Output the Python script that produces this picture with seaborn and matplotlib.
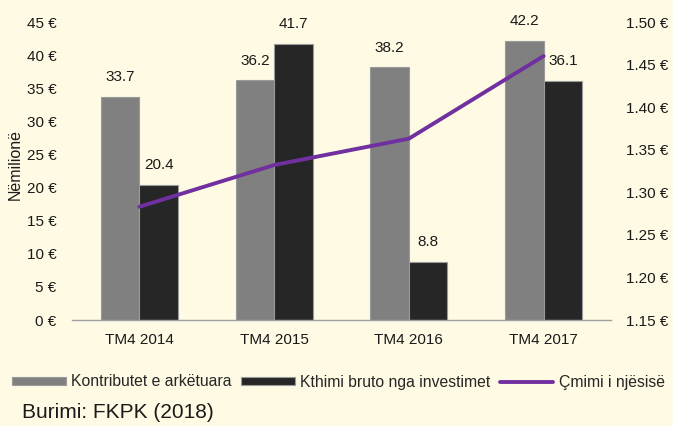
import numpy as np
import pandas as pd
import matplotlib
matplotlib.use("Agg")
import matplotlib.pyplot as plt
import seaborn as sns
from matplotlib.patches import Patch
from matplotlib.lines import Line2D

categories = ["TM4 2014", "TM4 2015", "TM4 2016", "TM4 2017"]
contributions = [33.7, 36.2, 38.2, 42.2]
returns = [20.4, 41.7, 8.8, 36.1]
unit_price = [1.283, 1.332, 1.363, 1.460]
series_names = ["Kontributet e arkëtuara", "Kthimi bruto nga investimet", "Çmimi i njësisë"]
left_ticks = [0, 5, 10, 15, 20, 25, 30, 35, 40, 45]
right_ticks = [1.15, 1.20, 1.25, 1.30, 1.35, 1.40, 1.45, 1.50]

bg = "#FEFAE3"
gray = "#808080"
dark = "#262626"
purple = "#7030A0"

sns.set_theme(style="white")
plt.rcParams["font.family"] = ["Liberation Sans", "DejaVu Sans"]
plt.rcParams["font.size"] = 11

df = pd.DataFrame({
    "cat": categories * 2,
    "val": contributions + returns,
    "series": [series_names[0]] * 4 + [series_names[1]] * 4,
})

fig = plt.figure(figsize=(6.73, 4.26), dpi=100, facecolor=bg)
ax = fig.add_axes([72 / 673, 1 - 320 / 426, (611 - 72) / 673, (320 - 22) / 426])
ax.set_facecolor(bg)

sns.barplot(data=df, x="cat", y="val", hue="series", palette=[gray, dark],
            width=0.57, gap=0, ax=ax, legend=False, edgecolor="#9a9a9a",
            linewidth=0.8, saturation=1)

for cont in ax.containers:
    ax.bar_label(cont, labels=[f"{v:.1f}" for v in cont.datavalues],
                 padding=9, fontsize=11, color="#1a1a1a")

ax.set_xlim(-0.5, 3.5)
ax.set_ylim(0, 45)
ax.set_yticks(left_ticks)
ax.set_yticklabels([f"{t} €" for t in left_ticks], fontsize=11, color="#1a1a1a")
ax.set_xticks(range(4))
ax.set_xticklabels(categories, fontsize=11, color="#1a1a1a")
ax.set_xticks([-0.5, 0.5, 1.5, 2.5, 3.5], minor=True)
ax.tick_params(axis="x", which="major", length=0, pad=9)
ax.tick_params(axis="x", which="minor", length=4, width=1, color="#a0a0a0", direction="out")
ax.tick_params(axis="y", length=0, pad=11)
ax.set_xlabel("")
ax.set_ylabel("Nëmilionë", fontsize=11.5, color="#1a1a1a")
ax.yaxis.set_label_coords(-0.092, 0.523)
for s in ["left", "right", "top"]:
    ax.spines[s].set_visible(False)
ax.spines["bottom"].set_color("#a0a0a0")
ax.spines["bottom"].set_linewidth(1)

ax2 = ax.twinx()
sns.lineplot(x=np.arange(4), y=unit_price, ax=ax2, color=purple, linewidth=2.8,
             solid_capstyle="round")
ax2.set_ylim(1.15, 1.50)
ax2.set_yticks(right_ticks)
ax2.set_yticklabels([f"{t:.2f} €" for t in right_ticks], fontsize=11, color="#1a1a1a")
ax2.tick_params(axis="y", length=0, pad=11)
for s in ["left", "right", "top", "bottom"]:
    ax2.spines[s].set_visible(False)
ax2.set_xlim(-0.5, 3.5)

handles = [
    Patch(facecolor=gray, edgecolor="#9a9a9a", linewidth=0.8),
    Patch(facecolor=dark, edgecolor="#9a9a9a", linewidth=0.8),
    Line2D([0], [0], color=purple, linewidth=2.8),
]
fig.legend(handles, series_names, loc="center", bbox_to_anchor=(0.503, 1 - 382 / 426),
           ncol=3, frameon=False, fontsize=11.3, handlelength=3.4, handleheight=0.45,
           handletextpad=0.35, columnspacing=0.6, borderaxespad=0)

fig.text(22 / 673, 1 - 412 / 426, "Burimi: FKPK (2018)", fontsize=15,
         color="#1a1a1a", va="center", ha="left")

fig.savefig("out.png", dpi=100, facecolor=bg)
